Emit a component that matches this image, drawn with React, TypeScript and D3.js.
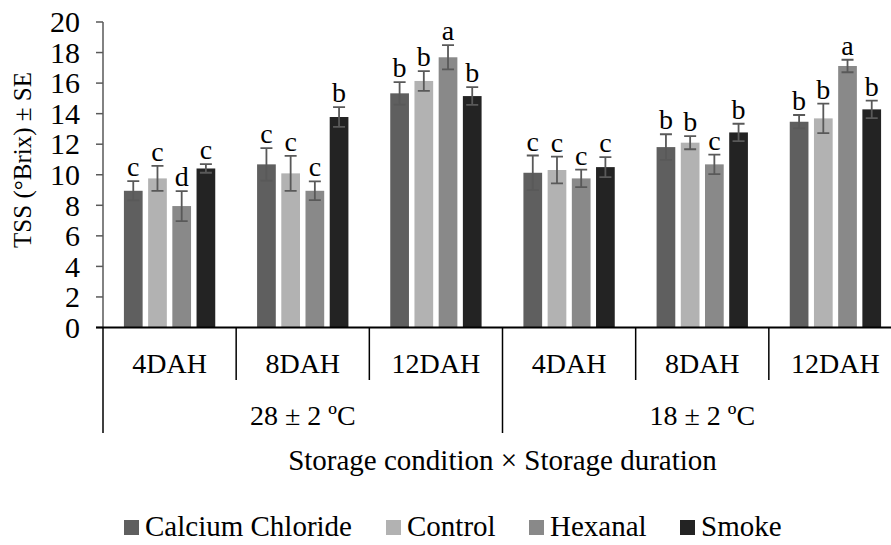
import React, { useEffect, useRef } from "react";
import * as d3 from "d3";

const durations = ["4DAH", "8DAH", "12DAH", "4DAH", "8DAH", "12DAH"];
const conditions = ["28 ± 2 ºC", "18 ± 2 ºC"];
const treatments = ["Calcium Chloride", "Control", "Hexanal", "Smoke"];
const colors = ["#5f5f5f", "#b2b2b2", "#898989", "#232323"];
const yTicks = [0, 2, 4, 6, 8, 10, 12, 14, 16, 18, 20];

// mean per group, one array per treatment
const calciumChloride = [8.95, 10.68, 15.33, 10.13, 11.81, 13.47];
const control = [9.76, 10.09, 16.14, 10.31, 12.1, 13.69];
const hexanal = [7.95, 8.95, 17.69, 9.76, 10.68, 17.12];
const smoke = [10.41, 13.78, 15.15, 10.5, 12.77, 14.28];

// standard errors
const seCalciumChloride = [0.63, 1.06, 0.74, 1.13, 0.84, 0.44];
const seControl = [0.82, 1.15, 0.65, 0.88, 0.43, 0.96];
const seHexanal = [0.98, 0.61, 0.79, 0.57, 0.64, 0.41];
const seSmoke = [0.28, 0.65, 0.58, 0.65, 0.57, 0.57];

// significance letters
const lettersCalciumChloride = ["c", "c", "b", "c", "b", "b"];
const lettersControl = ["c", "c", "b", "c", "b", "b"];
const lettersHexanal = ["d", "c", "a", "c", "c", "a"];
const lettersSmoke = ["c", "b", "b", "c", "b", "b"];

type Bar = { group: number; series: number; value: number; se: number; letter: string };

const App: React.FC = () => {
  const svgRef = useRef<SVGSVGElement | null>(null);

  useEffect(() => {
    if (!svgRef.current) return;
    const width = 891;
    const height = 545;
    const marginLeft = 103;
    const plotRight = 902;
    const plotTop = 22;
    const plotBottom = 327.5;
    const font = "'Liberation Serif', 'Times New Roman', serif";

    const values = [calciumChloride, control, hexanal, smoke];
    const ses = [seCalciumChloride, seControl, seHexanal, seSmoke];
    const letters = [lettersCalciumChloride, lettersControl, lettersHexanal, lettersSmoke];
    const bars: Bar[] = [];
    durations.forEach((_, g) =>
      treatments.forEach((_, s) =>
        bars.push({ group: g, series: s, value: values[s][g], se: ses[s][g], letter: letters[s][g] })
      )
    );

    const x0 = d3
      .scaleBand<number>()
      .domain(d3.range(durations.length))
      .range([marginLeft, plotRight]);
    const x1 = d3
      .scaleBand<number>()
      .domain(d3.range(treatments.length))
      .range([0, x0.bandwidth()])
      .paddingInner(0.227)
      .paddingOuter(0.864);
    const y = d3.scaleLinear().domain([0, 20]).range([plotBottom, plotTop]);

    const svg = d3
      .select(svgRef.current)
      .attr("width", width)
      .attr("height", height)
      .attr("viewBox", [0, 0, width, height])
      .style("position", "absolute")
      .style("left", "0px")
      .style("top", "0px")
      .style("background", "#fff")
      .style("font-family", font);

    // y axis
    const gy = svg.append("g");
    gy.append("line")
      .attr("x1", marginLeft)
      .attr("x2", marginLeft)
      .attr("y1", y(20))
      .attr("y2", plotBottom)
      .attr("stroke", "#595959")
      .attr("stroke-width", 1.5);
    gy.selectAll("line.tick")
      .data(yTicks)
      .join("line")
      .attr("class", "tick")
      .attr("x1", marginLeft - 7)
      .attr("x2", marginLeft)
      .attr("y1", (d) => y(d))
      .attr("y2", (d) => y(d))
      .attr("stroke", "#595959")
      .attr("stroke-width", 1.5);
    gy.selectAll("text")
      .data(yTicks)
      .join("text")
      .attr("x", 80)
      .attr("y", (d) => y(d))
      .attr("dy", "0.34em")
      .attr("text-anchor", "end")
      .attr("font-size", 30)
      .text((d) => d);

    svg
      .append("text")
      .attr("transform", `translate(31,160) rotate(-90)`)
      .attr("text-anchor", "middle")
      .attr("font-size", 25)
      .text("TSS (°Brix) ± SE");

    // bars
    svg
      .append("g")
      .selectAll("rect")
      .data(bars)
      .join("rect")
      .attr("x", (d) => x0(d.group)! + x1(d.series)!)
      .attr("y", (d) => y(d.value))
      .attr("width", x1.bandwidth())
      .attr("height", (d) => plotBottom - y(d.value))
      .attr("fill", (d) => colors[d.series]);

    // error bars
    const cx = (d: Bar) => x0(d.group)! + x1(d.series)! + x1.bandwidth() / 2;
    const err = svg.append("g").attr("stroke", "#595959").attr("stroke-width", 1.8);
    err
      .selectAll("path")
      .data(bars)
      .join("path")
      .attr("fill", "none")
      .attr("d", (d) => {
        const c = cx(d);
        const t = y(d.value + d.se);
        const b = y(d.value - d.se);
        return `M${c},${t}V${b}M${c - 6},${t}H${c + 6}M${c - 6},${b}H${c + 6}`;
      });

    // letters
    svg
      .append("g")
      .selectAll("text")
      .data(bars)
      .join("text")
      .attr("x", cx)
      .attr("y", (d) => y(d.value + d.se) - 5)
      .attr("text-anchor", "middle")
      .attr("font-size", 28)
      .text((d) => d.letter);

    // x axis
    svg
      .append("line")
      .attr("x1", marginLeft - 7)
      .attr("x2", width)
      .attr("y1", plotBottom)
      .attr("y2", plotBottom)
      .attr("stroke", "#000")
      .attr("stroke-width", 1.8);

    const sep = svg.append("g").attr("stroke", "#000").attr("stroke-width", 1.5);
    d3.range(durations.length + 1).forEach((i) => {
      const xx = i < durations.length ? x0(i)! : plotRight;
      const outer = i % 3 === 0;
      sep
        .append("line")
        .attr("x1", xx)
        .attr("x2", xx)
        .attr("y1", plotBottom)
        .attr("y2", outer ? 433 : 380);
    });

    svg
      .append("g")
      .selectAll("text")
      .data(durations)
      .join("text")
      .attr("x", (_, i) => x0(i)! + x0.bandwidth() / 2)
      .attr("y", 373)
      .attr("text-anchor", "middle")
      .attr("font-size", 28)
      .text((d) => d);

    svg
      .append("g")
      .selectAll("text")
      .data(conditions)
      .join("text")
      .attr("x", (_, i) => (x0(i * 3)! + (i === 0 ? x0(3)! : plotRight)) / 2)
      .attr("y", 425)
      .attr("text-anchor", "middle")
      .attr("font-size", 28)
      .text((d) => d);

    svg
      .append("text")
      .attr("x", (marginLeft + plotRight) / 2)
      .attr("y", 470)
      .attr("text-anchor", "middle")
      .attr("font-size", 29)
      .text("Storage condition × Storage duration");

    // legend
    const legendX = [124, 386, 529, 680];
    const lg = svg
      .append("g")
      .selectAll("g")
      .data(treatments)
      .join("g")
      .attr("transform", (_, i) => `translate(${legendX[i]},536)`);
    lg.append("rect")
      .attr("x", 0)
      .attr("y", -16)
      .attr("width", 15)
      .attr("height", 15)
      .attr("fill", (_, i) => colors[i]);
    lg.append("text")
      .attr("x", 21)
      .attr("y", 0)
      .attr("font-size", 29)
      .text((d) => d);

    return () => {
      svg.selectAll("*").remove();
    };
  }, []);

  return <svg ref={svgRef}></svg>;
};

export default App;
